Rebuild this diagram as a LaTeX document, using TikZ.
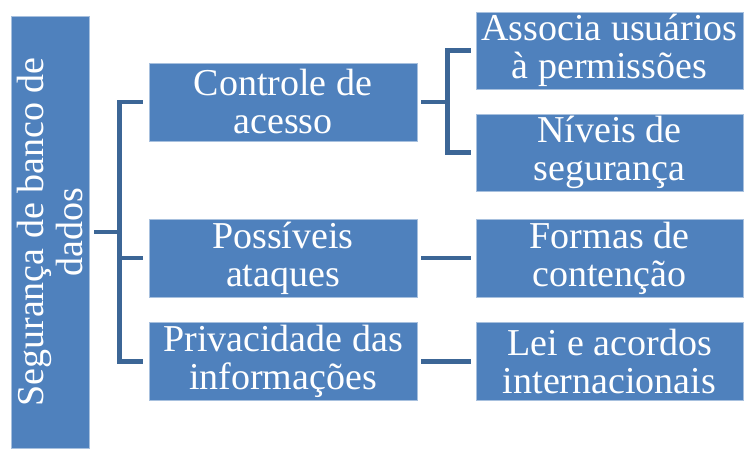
\documentclass[tikz,border=0pt]{standalone}
\usepackage{fontspec}
\setmainfont{Liberation Serif}
\definecolor{boxblue}{HTML}{4F81BD}
\definecolor{linkblue}{HTML}{3C6696}
\definecolor{edgeblue}{HTML}{A7C0DE}
\begin{document}
\begin{tikzpicture}[x=1pt,y=-1pt,
  box/.style={draw=edgeblue,line width=0.6pt,fill=boxblue,text=white,align=center,
    inner sep=0pt,minimum width=268pt,minimum height=78pt,
    font=\fontsize{38}{38}\selectfont},
  conn/.style={draw=linkblue,line width=4.5pt}]
\useasboundingbox (0,0) rectangle (753,460);
\node[box,minimum width=78pt,minimum height=432pt] (root) at (50,232) {};
\node[text=white,align=center,rotate=90,font=\fontsize{38}{39}\selectfont] (roottext) at (root.center) {Segurança de banco de\\dados};
\node[box] (c1) at (283,102) {Controle de\\acesso};
\node[box] (c2) at (283,258) {Possíveis\\ataques};
\node[box] (c3) at (283,361.5) {Privacidade das\\informações};
\node[box,minimum width=267pt,minimum height=77pt] (a) at (609.5,50.5) {Associa usuários\\à permissões};
\node[box,minimum width=267pt,minimum height=77pt] (n) at (609.5,152.5) {Níveis de\\segurança};
\node[box,minimum width=267pt,minimum height=78pt] (f) at (609.5,258) {Formas de\\contenção};
\node[box,minimum width=267pt,minimum height=78pt] (l) at (609.5,361.5) {Lei e acordos\\internacionais};
\draw[conn,shorten <=5pt,shorten >=6pt] (root.east) -- ++(30,0) |- (c1.west);
\draw[conn,shorten <=5pt,shorten >=6pt] (root.east) -- ++(30,0) |- (c2.west);
\draw[conn,shorten <=5pt,shorten >=6pt] (root.east) -- ++(30,0) |- (c3.west);
\draw[conn,shorten <=4pt,shorten >=5pt] (c1.east) -- ++(30,0) |- (a.west);
\draw[conn,shorten <=4pt,shorten >=5pt] (c1.east) -- ++(30,0) |- (n.west);
\draw[conn,shorten <=4pt,shorten >=5pt] (c2.east) -- (f.west);
\draw[conn,shorten <=4pt,shorten >=5pt] (c3.east) -- (l.west);
\end{tikzpicture}
\end{document}
